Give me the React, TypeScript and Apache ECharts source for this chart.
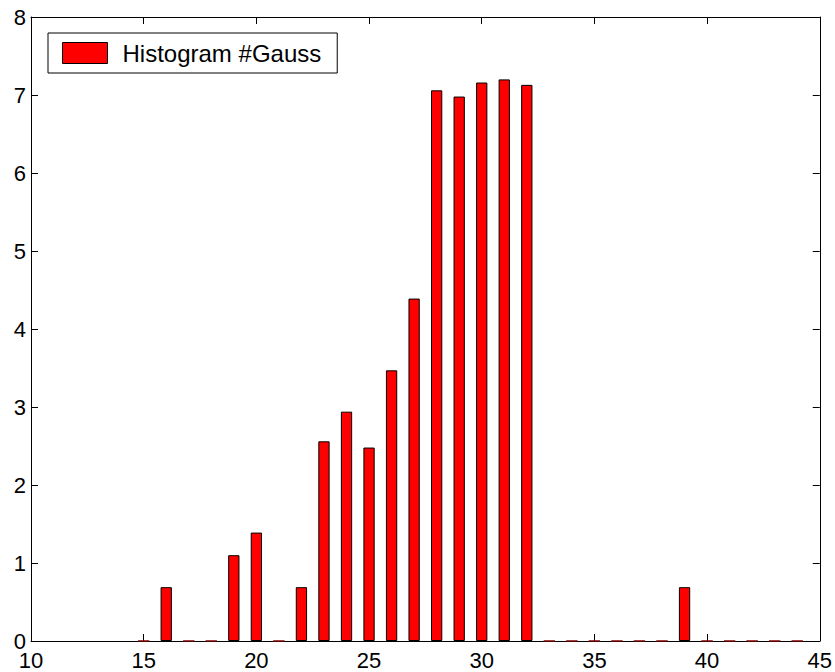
import React, { useEffect, useRef } from "react";
import * as echarts from "echarts";

const binCenters = [15, 16, 17, 18, 19, 20, 21, 22, 23, 24, 25, 26, 27, 28, 29, 30, 31, 32, 33, 34, 35, 36, 37, 38, 39, 40, 41, 42, 43, 44];
const binValues = [0, 0.69, 0, 0, 1.1, 1.39, 0, 0.69, 2.56, 2.94, 2.48, 3.47, 4.39, 7.06, 6.98, 7.16, 7.2, 7.13, 0, 0, 0, 0, 0, 0, 0.69, 0, 0, 0, 0, 0];
const seriesName = "Histogram #Gauss";
const xMin = 10, xMax = 45, xStep = 5;
const yMin = 0, yMax = 8, yStep = 1;

const FONT = "'Liberation Sans', Arial, Helvetica, sans-serif";

export default function App() {
  const ref = useRef<HTMLDivElement>(null);
  useEffect(() => {
    if (!ref.current) return;
    const chart = echarts.init(ref.current, undefined, { renderer: "svg" });
    const gridLeft = 31, gridRight = 14, gridTop = 17, gridBottom = 31;
    const plotW = 835 - gridLeft - gridRight;
    const unitPx = plotW / (xMax - xMin);
    const tick = { show: true, inside: true, length: 7, lineStyle: { color: "#000", width: 1 } };
    const axisLine = { show: true, onZero: false, lineStyle: { color: "#000", width: 1 } };
    chart.setOption({
      animation: false,
      backgroundColor: "#fff",
      textStyle: { fontFamily: FONT },
      grid: { left: gridLeft, right: gridRight, top: gridTop, bottom: gridBottom, show: false, containLabel: false },
      legend: {
        show: true,
        left: 48,
        top: 33,
        orient: "horizontal",
        padding: [8, 16, 8, 14],
        borderColor: "#000",
        borderWidth: 1,
        backgroundColor: "#fff",
        itemWidth: 45,
        itemHeight: 21,
        icon: "rect",
        selectedMode: false,
        data: [{ name: seriesName, itemStyle: { color: "#ff0000", borderColor: "#000", borderWidth: 1 } }],
        textStyle: { fontFamily: FONT, fontSize: 24, color: "#000", padding: [0, 0, 0, 10] },
      },
      xAxis: [
        {
          type: "value",
          min: xMin,
          max: xMax,
          interval: xStep,
          position: "bottom",
          axisLine,
          axisTick: tick,
          splitLine: { show: false },
          axisLabel: { color: "#000", fontSize: 22, fontFamily: FONT, margin: 8 },
        },
        {
          type: "value",
          min: xMin,
          max: xMax,
          interval: xStep,
          position: "top",
          axisLine,
          axisTick: tick,
          splitLine: { show: false },
          axisLabel: { show: false },
        },
      ],
      yAxis: [
        {
          type: "value",
          min: yMin,
          max: yMax,
          interval: yStep,
          position: "left",
          axisLine,
          axisTick: tick,
          splitLine: { show: false },
          axisLabel: { color: "#000", fontSize: 22, fontFamily: FONT, margin: 5 },
        },
        {
          type: "value",
          min: yMin,
          max: yMax,
          interval: yStep,
          position: "right",
          axisLine,
          axisTick: tick,
          splitLine: { show: false },
          axisLabel: { show: false },
        },
      ],
      series: [
        {
          name: seriesName,
          type: "bar",
          xAxisIndex: 0,
          yAxisIndex: 0,
          barWidth: unitPx * 0.5,
          data: binCenters.map((c, i) => ({
            value: [c, binValues[i]],
            itemStyle: binValues[i] === 0 ? { borderColor: "#7a0000" } : undefined,
          })),
          itemStyle: { color: "#ff0000", borderColor: "#000", borderWidth: 1 },
        },
      ],
    });
    return () => chart.dispose();
  }, []);
  return <div ref={ref} style={{ position: "fixed", left: 0, top: 0, width: 835, height: 672 }} />;
}
